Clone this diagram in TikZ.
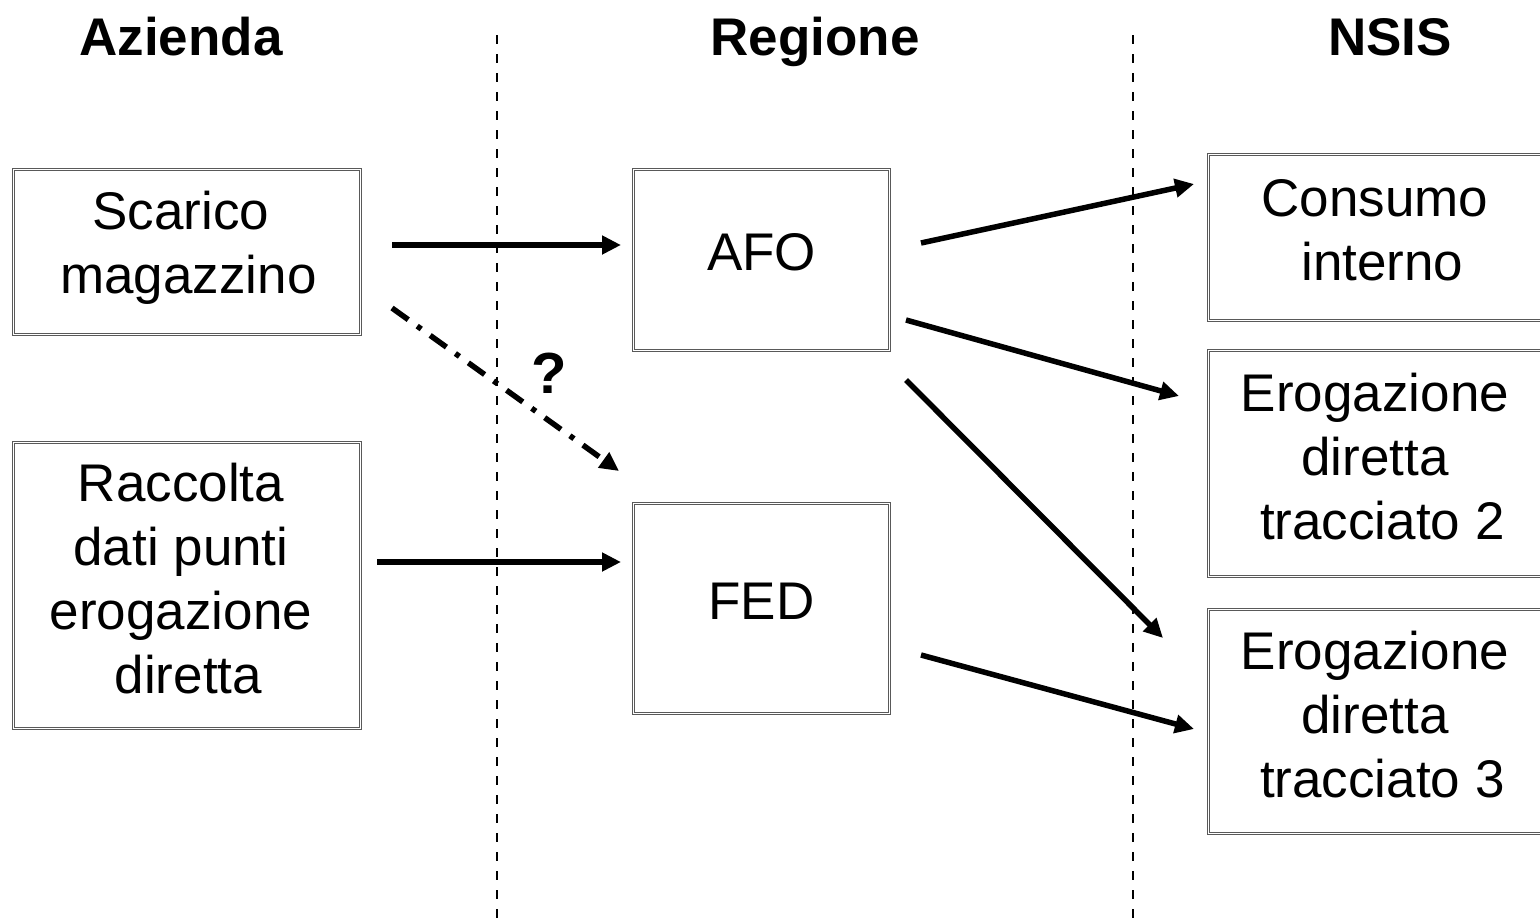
\documentclass[tikz,border=0pt]{standalone}
\usepackage{fontspec}
\setmainfont{Liberation Sans}
\usetikzlibrary{arrows.meta}
\begin{document}
\begin{tikzpicture}[x=1pt,y=-1pt,
  box/.style={draw=gray!70!black, line width=1pt, double=white, double distance=1pt, inner sep=0pt},
  lbl/.style={align=center, font=\fontsize{53}{64}\selectfont, inner sep=0pt},
  hdr/.style={font=\fontsize{53}{64}\selectfont\bfseries, inner sep=0pt, anchor=base},
  arr/.style={line width=5.5pt, -{Triangle[length=19pt,width=18pt]}},
  darr/.style={arr, dash pattern=on 20pt off 11pt on 5pt off 11pt},
  sep/.style={line width=2.8pt, dash pattern=on 9pt off 10pt}]
\useasboundingbox (0,0) rectangle (1540,919);
\clip (0,0) rectangle (1540,919);
\newcommand{\lsp}{\hspace*{.278em}}
% headers
\node[hdr] (hA) at (181,55) {Azienda};
\node[hdr] (hR) at (815,55) {Regione};
\node[hdr] (hN) at (1390,55) {NSIS};
% separators
\coordinate (s1t) at (497,35); \coordinate (s1b) at (497,919);
\coordinate (s2t) at (1133,35); \coordinate (s2b) at (1133,919);
\draw[sep] (s1t) -- (s1b);
\draw[sep] (s2t) -- (s2b);
% boxes
\node[box, minimum width=347pt, minimum height=165pt] (sc) at (187,252) {};
\node[box, minimum width=347pt, minimum height=286pt] (ra) at (187,585.5) {};
\node[box, minimum width=256pt, minimum height=181pt] (afo) at (761.5,260) {};
\node[box, minimum width=256pt, minimum height=210pt] (fed) at (761.5,608.5) {};
\node[box, minimum width=333pt, minimum height=166pt] (ci) at (1375,237.5) {};
\node[box, minimum width=333pt, minimum height=226pt] (e2) at (1375,463.5) {};
\node[box, minimum width=333pt, minimum height=224pt] (e3) at (1375,721.5) {};
% labels
\node[lbl] (sct) at ([xshift=-6pt,yshift=4pt]sc.center) {Scarico\\\lsp magazzino};
\node[lbl] (rat) at ([xshift=-6pt,yshift=7pt]ra.center) {Raccolta\\dati punti\\erogazione\\\lsp diretta};
\node[lbl] (afot) at ([yshift=8pt]afo.center) {AFO};
\node[lbl] (fedt) at ([yshift=7pt]fed.center) {FED};
\node[lbl] (cit) at ([yshift=7pt]ci.center) {Consumo\\\lsp interno};
\node[lbl] (e2t) at ([yshift=7pt]e2.center) {Erogazione\\diretta\\\lsp tracciato 2};
\node[lbl] (e3t) at ([yshift=7pt]e3.center) {Erogazione\\diretta\\\lsp tracciato 3};
% arrow end points
\coordinate (a1s) at (392,245); \coordinate (a1e) at (621,245);
\coordinate (a2s) at (377,562); \coordinate (a2e) at (621,562);
\coordinate (a3s) at (392,308); \coordinate (a3e) at (619,471);
\coordinate (a4s) at (921,243); \coordinate (a4e) at (1194,184);
\coordinate (a5s) at (906,320); \coordinate (a5e) at (1179,396);
\coordinate (a6s) at (906,380); \coordinate (a6e) at (1163,638);
\coordinate (a7s) at (921,655); \coordinate (a7e) at (1194,729);
\draw[arr] (a1s) -- (a1e);
\draw[arr] (a2s) -- (a2e);
\draw[darr] (a3s) -- (a3e);
\draw[arr] (a4s) -- (a4e);
\draw[arr] (a5s) -- (a5e);
\draw[arr] (a6s) -- (a6e);
\draw[arr] (a7s) -- (a7e);
\node[hdr, anchor=center, font=\fontsize{58}{64}\selectfont\bfseries] (q) at (549,373) {?};
\end{tikzpicture}
\end{document}
